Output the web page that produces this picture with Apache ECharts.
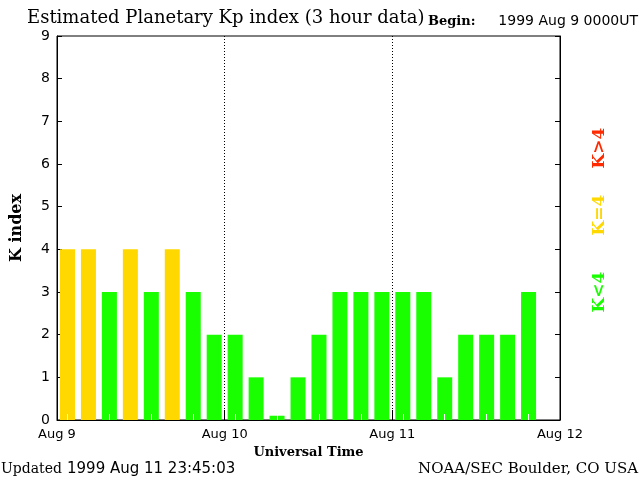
<!DOCTYPE html>
<html>
<head>
<meta charset="utf-8">
<script src="https://cdn.jsdelivr.net/npm/echarts@6/dist/echarts.min.js"></script>
<style>
  html, body { margin: 0; padding: 0; background: #fff; }
  #main { width: 640px; height: 480px; }
</style>
</head>
<body>
<div id="main"></div>
<script>
// Kp values, one per 3 hour slot starting 1999 Aug 9 00 UT (last slot not yet in)
const kpAug9 = [4, 4, 3, 4, 3, 4, 3, 2];
const kpAug10 = [2, 1, 0.1, 1, 2, 3, 3, 3];
const kpAug11 = [3, 3, 1, 2, 2, 2, 3, null];
const dayLabels = ['Aug 9', 'Aug 10', 'Aug 11', 'Aug 12'];
const yTicks = [0, 1, 2, 3, 4, 5, 6, 7, 8, 9];

const GREEN = '#1aff00';
const YELLOW = '#ffd800';
const RED = '#ff2a00';
const SERIF = '"DejaVu Serif", serif';
const SANS = '"DejaVu Sans", sans-serif';

const kp = kpAug9.concat(kpAug10, kpAug11);
const slots = kp.map((v, i) => 'slot' + i);

// bar colour by K level
function kColor(v) {
  if (v > 4) return RED;
  if (v === 4) return YELLOW;
  return GREEN;
}

const chart = echarts.init(document.getElementById('main'), null, { renderer: 'canvas' });

const option = {
  backgroundColor: '#fff',
  animation: false,
  grid: {
    left: 57,
    right: 80,
    top: 36,
    bottom: 60,
    show: true,
    borderColor: '#000',
    borderWidth: 1,
    backgroundColor: 'transparent'
  },
  xAxis: [
    {
      type: 'category',
      data: slots,
      boundaryGap: true,
      z: 5,
      axisLine: { show: false },
      axisLabel: { show: false },
      axisTick: {
        show: true,
        inside: true,
        alignWithLabel: true,
        length: 6,
        lineStyle: { color: '#fff', width: 1 }
      },
      splitLine: { show: false }
    },
    {
      type: 'value',
      position: 'bottom',
      min: 0,
      max: 72,
      interval: 24,
      z: 5,
      axisLine: { show: true, lineStyle: { color: '#000', width: 1 } },
      axisTick: {
        show: true,
        inside: true,
        length: 10,
        lineStyle: { color: '#000', width: 1 }
      },
      axisLabel: {
        margin: 8,
        color: '#000',
        fontFamily: SANS,
        fontSize: 13,
        formatter: v => dayLabels[Math.round(v / 24)]
      },
      splitLine: {
        show: true,
        lineStyle: { color: '#000', width: 1, type: [1, 2] }
      },
      name: 'Universal Time',
      nameLocation: 'middle',
      nameGap: 22,
      nameTextStyle: { color: '#000', fontFamily: SERIF, fontSize: 13, fontWeight: 'bold' }
    }
  ],
  yAxis: [
    {
      type: 'value',
      min: 0,
      max: 9,
      interval: 1,
      position: 'left',
      axisLine: { show: true, lineStyle: { color: '#000', width: 1 } },
      axisTick: { show: true, inside: true, length: 5, lineStyle: { color: '#000' } },
      axisLabel: {
        margin: 7,
        color: '#000',
        fontFamily: SANS,
        fontSize: 14,
        formatter: v => yTicks.indexOf(v) >= 0 ? String(v) : ''
      },
      splitLine: { show: false },
      name: 'K index',
      nameLocation: 'middle',
      nameGap: 32,
      nameRotate: 90,
      nameTextStyle: { color: '#000', fontFamily: SERIF, fontSize: 16, fontWeight: 'bold' }
    },
    {
      type: 'value',
      min: 0,
      max: 9,
      interval: 1,
      position: 'right',
      axisLine: { show: true, lineStyle: { color: '#000', width: 1 } },
      axisTick: { show: true, inside: true, length: 5, lineStyle: { color: '#000' } },
      axisLabel: { show: false },
      splitLine: { show: false }
    }
  ],
  series: [
    {
      type: 'bar',
      xAxisIndex: 0,
      yAxisIndex: 0,
      barWidth: 15,
      z: 2,
      itemStyle: { borderRadius: 0, borderWidth: 0 },
      data: kp.map(v => ({ value: v, itemStyle: { color: kColor(v), borderRadius: 0 } }))
    }
  ],
  graphic: [
    {
      type: 'text',
      style: {
        text: 'Estimated Planetary Kp index (3 hour data)',
        x: 27, y: 18, textVerticalAlign: 'middle',
        font: '18px ' + SERIF, fill: '#000'
      }
    },
    {
      type: 'text',
      style: {
        text: 'Begin:',
        x: 428, y: 22, textVerticalAlign: 'middle',
        font: 'bold 13px ' + SERIF, fill: '#000'
      }
    },
    {
      type: 'text',
      style: {
        text: '1999 Aug 9 0000UT',
        x: 638, y: 21, textAlign: 'right', textVerticalAlign: 'middle',
        font: '14px ' + SANS, fill: '#000'
      }
    },
    {
      type: 'text',
      style: {
        text: 'Updated',
        x: 1, y: 469, textVerticalAlign: 'middle',
        font: '14px ' + SERIF, fill: '#000'
      }
    },
    {
      type: 'text',
      style: {
        text: '1999 Aug 11 23:45:03',
        x: 67, y: 469, textVerticalAlign: 'middle',
        font: '15px ' + SANS, fill: '#000'
      }
    },
    {
      type: 'text',
      style: {
        text: 'NOAA/SEC Boulder, CO USA',
        x: 638, y: 469, textAlign: 'right', textVerticalAlign: 'middle',
        font: '15px ' + SERIF, fill: '#000'
      }
    },
    {
      type: 'text',
      x: 600, y: 148, rotation: Math.PI / 2,
      style: {
        text: 'K>4', x: 0, y: 0, textAlign: 'center', textVerticalAlign: 'middle',
        font: 'bold 17px ' + SERIF, fill: RED
      }
    },
    {
      type: 'text',
      x: 600, y: 215, rotation: Math.PI / 2,
      style: {
        text: 'K=4', x: 0, y: 0, textAlign: 'center', textVerticalAlign: 'middle',
        font: 'bold 17px ' + SERIF, fill: YELLOW
      }
    },
    {
      type: 'text',
      x: 600, y: 292, rotation: Math.PI / 2,
      style: {
        text: 'K<4', x: 0, y: 0, textAlign: 'center', textVerticalAlign: 'middle',
        font: 'bold 17px ' + SERIF, fill: GREEN
      }
    }
  ]
};

chart.setOption(option);
</script>
</body>
</html>
